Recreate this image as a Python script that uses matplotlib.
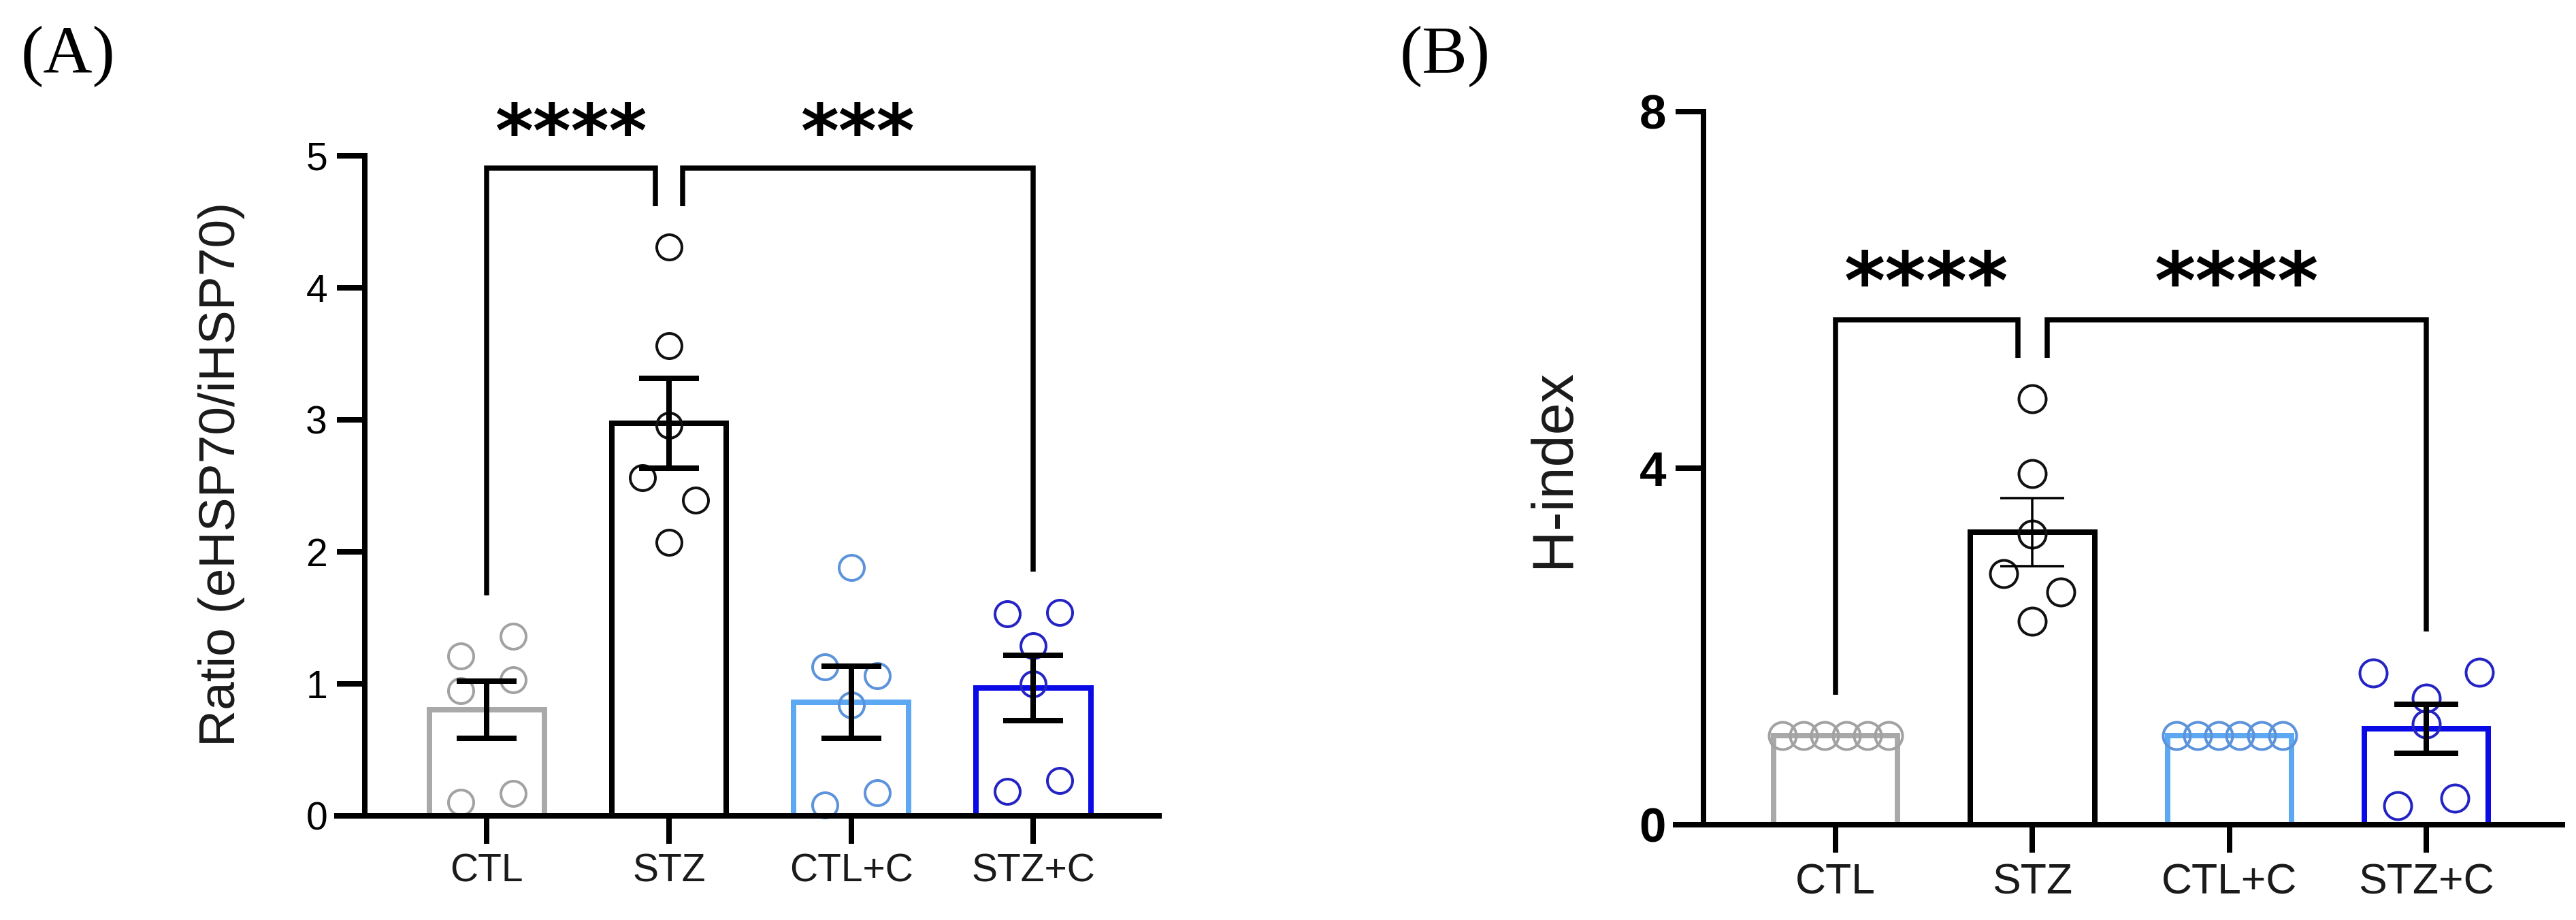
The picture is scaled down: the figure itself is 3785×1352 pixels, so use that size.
import numpy as np
import matplotlib
matplotlib.use("Agg")
import matplotlib.pyplot as plt

plt.rcParams['font.family'] = ['Liberation Sans', 'DejaVu Sans']

# ---------------- data ----------------
groups = ['CTL', 'STZ', 'CTL+C', 'STZ+C']

# Panel A: Ratio (eHSP70/iHSP70)
a_ctl = [1.21, 1.36, 0.95, 1.03, 0.105, 0.17]
a_stz = [4.31, 3.56, 2.96, 2.56, 2.39, 2.07]
a_ctlc = [1.88, 1.13, 1.06, 0.84, 0.085, 0.175]
a_stzc = [1.53, 1.54, 1.29, 1.00, 0.185, 0.27]

# Panel B: H-index
b_ctl = [1.0, 1.0, 1.0, 1.0, 1.0, 1.0]
b_stz = [4.78, 3.94, 3.26, 2.82, 2.61, 2.28]
b_ctlc = [1.0, 1.0, 1.0, 1.0, 1.0, 1.0]
b_stzc = [1.70, 1.42, 1.71, 1.13, 0.21, 0.30]

a_yticks = [0, 1, 2, 3, 4, 5]
b_yticks = [0, 4, 8]
a_ylabel = 'Ratio (eHSP70/iHSP70)'
b_ylabel = 'H-index'
a_sig = ['****', '***']
b_sig = ['****', '****']

# ---------------- styles ----------------
bar_colors = ['#A9A9A9', '#000000', '#5CA8F2', '#0A0AE6']
pt_colors = ['#A2A2A2', '#111111', '#5C93DB', '#2424C4']

W, H = 3785, 1352
DPI = 100
PX = 72.0 / DPI  # points per pixel

fig = plt.figure(figsize=(W / DPI, H / DPI), dpi=DPI)
fig.patch.set_facecolor('white')


def swarm_offsets(vals, thr, pitch=0.29, span=0.27):
    vals = np.asarray(vals, float)
    order = sorted(range(len(vals)), key=lambda i: (-vals[i], i))
    rows = []
    for i in order:
        if rows and vals[rows[-1][0]] - vals[i] < thr:
            rows[-1].append(i)
        else:
            rows.append([i])
    off = np.zeros(len(vals))
    for r in rows:
        r = sorted(r)
        n = len(r)
        if n == 1:
            continue
        step = min(pitch, 2 * span / (n - 1))
        pos = (np.arange(n) - (n - 1) / 2) * step
        for k, i in enumerate(r):
            off[i] = pos[k]
    return off


def panel(rect_px, data, yticks, ylabel, sig, tick_fs, tick_bold, cat_fs,
          ylab_fs, ylab_coords, marker_px, cap_px, err_lw_list, star_fs):
    l, r, b, t = rect_px
    ax = fig.add_axes([l / W, 1 - b / H, (r - l) / W, (b - t) / H])
    n = len(groups)
    x = np.arange(n)
    tick_len_px = 41
    ax.set_ylim(0, yticks[-1])
    ppx = (r - l)
    right = 3.69
    yaxis_x = -0.67
    u = (ppx - tick_len_px) / (right - yaxis_x)
    left = yaxis_x - tick_len_px / u
    ax.set_xlim(left, right)

    for s in ['top', 'right']:
        ax.spines[s].set_visible(False)
    ax.spines['left'].set_position(('data', yaxis_x))
    for s in ['left', 'bottom']:
        ax.spines[s].set_linewidth(8 * PX)
        ax.spines[s].set_zorder(6)
        ax.spines[s].set_capstyle('projecting')

    ppu = ax.transData.transform((0, 1))[1] - ax.transData.transform((0, 0))[1]
    thr = marker_px / ppu

    means = [np.mean(d) for d in data]
    sems = [np.std(d, ddof=1) / np.sqrt(len(d)) for d in data]

    ax.bar(x, means, width=0.63, facecolor='white', edgecolor=bar_colors,
           linewidth=8 * PX, zorder=2)
    for i, d in enumerate(data):
        off = swarm_offsets(d, thr)
        ax.plot(x[i] + off, d, linestyle='none', marker='o',
                markersize=(marker_px - 4) * PX, markerfacecolor='none',
                markeredgecolor=pt_colors[i], markeredgewidth=4 * PX,
                zorder=3, clip_on=False)
        if sems[i] > 1e-9:
            ax.errorbar(x[i], means[i], yerr=sems[i], fmt='none', ecolor='black',
                        elinewidth=err_lw_list[i] * PX, capsize=cap_px / 2 * PX,
                        capthick=err_lw_list[i] * PX, zorder=4)

    # significance brackets
    gap = 60 / ppu
    rise = 56 / ppu
    inner = 0.074
    legA = max(data[0]) + gap
    legS = max(data[1]) + gap
    legD = max(data[3]) + gap
    ytop = legS + rise
    blw = 7.5 * PX
    ax.plot([0, 0, 1 - inner, 1 - inner], [legA, ytop, ytop, legS], color='black',
            lw=blw, clip_on=False, zorder=5, solid_joinstyle='miter', solid_capstyle='butt')
    ax.plot([1 + inner, 1 + inner, 3, 3], [legS, ytop, ytop, legD], color='black',
            lw=blw, clip_on=False, zorder=5, solid_joinstyle='miter', solid_capstyle='butt')
    for (xa, xb), s in zip([(0, 1 - inner), (1 + inner, 3)], sig):
        ax.annotate(s, xy=((xa + xb) / 2, ytop), xytext=(0, 17 * PX),
                    textcoords='offset points', ha='center', va='baseline',
                    fontsize=star_fs, fontweight='bold', family='DejaVu Sans',
                    annotation_clip=False)

    ax.set_yticks(yticks)
    ax.set_yticklabels([str(v) for v in yticks], fontsize=tick_fs,
                       fontweight='bold' if tick_bold else 'normal')
    ax.set_xticks(x)
    ax.set_xticklabels(groups, fontsize=cat_fs, color='#1a1a1a')
    ax.tick_params(axis='both', direction='out', length=tick_len_px * PX,
                   width=8 * PX, color='black')
    ax.tick_params(axis='y', pad=14 * PX)
    ax.tick_params(axis='x', pad=14 * PX)
    ax.set_ylabel(ylabel, fontsize=ylab_fs, color='#1a1a1a')
    ax.yaxis.set_label_coords(*ylab_coords)
    return ax


axA = panel((495, 1703, 1199, 229), [a_ctl, a_stz, a_ctlc, a_stzc], a_yticks,
            a_ylabel, a_sig, tick_fs=41, tick_bold=False, cat_fs=41,
            ylab_fs=54, ylab_coords=((360 - 495) / 1208, (1199 - 697) / 970),
            marker_px=41, cap_px=88, err_lw_list=[8, 8, 8, 8], star_fs=77)

axB = panel((2462, 3765, 1212, 164), [b_ctl, b_stz, b_ctlc, b_stzc], b_yticks,
            b_ylabel, b_sig, tick_fs=51, tick_bold=True, cat_fs=45,
            ylab_fs=61, ylab_coords=((2323 - 2462) / 1303, 0.5),
            marker_px=44, cap_px=94, err_lw_list=[8, 3.5, 8, 8], star_fs=83)

fig.text(31 / W, 1 - 83 / H, '(A)', family='Liberation Serif', fontsize=72,
         ha='left', va='center')
fig.text(2057 / W, 1 - 83 / H, '(B)', family='Liberation Serif', fontsize=72,
         ha='left', va='center')

fig.savefig('out.png', dpi=DPI, facecolor='white')
